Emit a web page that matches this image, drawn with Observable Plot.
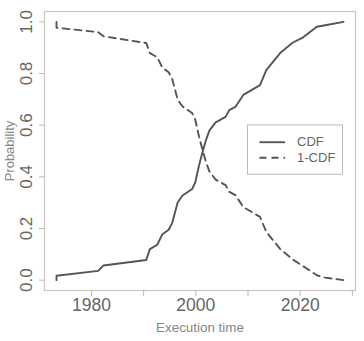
<!DOCTYPE html>
<html><head><meta charset="utf-8">
<script src="https://cdn.jsdelivr.net/npm/d3@7"></script>
<script src="https://cdn.jsdelivr.net/npm/@observablehq/plot@0.6"></script>
<style>body{margin:0;background:#fff}</style>
</head><body><div id="chart"></div>
<script>
const execTime = [1973.3, 1973.3, 1981.3, 1982.3, 1990.5, 1991.2, 1992.6, 1993.6, 1994.8, 1995.5, 1996.5, 1997.4, 1999.3, 1999.9, 2000.6, 2001.2, 2001.9, 2002.6, 2003.8, 2005.7, 2006.4, 2007.6, 2009.1, 2012.3, 2013.5, 2016.2, 2018.6, 2020.5, 2023.2, 2024.8, 2028.3];
const cdf = [0.0, 0.017, 0.036, 0.057, 0.078, 0.12, 0.137, 0.178, 0.195, 0.223, 0.30, 0.327, 0.353, 0.379, 0.443, 0.489, 0.540, 0.579, 0.611, 0.632, 0.658, 0.671, 0.717, 0.755, 0.813, 0.88, 0.92, 0.939, 0.981, 0.987, 1.0];
const survival = [1.0, 0.977, 0.960, 0.944, 0.918, 0.879, 0.863, 0.822, 0.805, 0.777, 0.70, 0.673, 0.647, 0.621, 0.557, 0.511, 0.460, 0.421, 0.389, 0.368, 0.342, 0.329, 0.283, 0.245, 0.187, 0.12, 0.08, 0.055, 0.019, 0.01, 0.0];
const seriesNames = ["CDF", "1-CDF"];
const xTicks = [1980, 1990, 2000, 2010, 2020, 2030];
const xTickLabels = [1980, 2000, 2020];
const yTicks = [0, 0.2, 0.4, 0.6, 0.8, 1.0];
const xTitle = "Execution time";
const yTitle = "Probability";

const cdfData = execTime.map((t, i) => ({t, p: cdf[i]}));
const survData = execTime.map((t, i) => ({t, p: survival[i]}));

// legend placed in data space (R legend "right")
const legendBox = {x1: 2010.0, x2: 2028.2, y1: 0.408, y2: 0.599};
const legendRows = [
  {name: seriesNames[0], y: 0.534},
  {name: seriesNames[1], y: 0.474}
];
const legendLine = {x1: 2012.2, x2: 2017.1, xText: 2019.4};

const lineColor = "#555";
const dash = "7,5";
const font = "Liberation Sans, Arial, Helvetica, sans-serif";

const chart = Plot.plot({
  width: 364,
  height: 341,
  marginLeft: 44,
  marginRight: 9,
  marginTop: 11,
  marginBottom: 51,
  style: {fontFamily: font, background: "#fff"},
  x: {domain: [1971.0, 2030.6]},
  y: {domain: [-0.04, 1.04]},
  marks: [
    Plot.frame({stroke: "#c8c8c8", strokeWidth: 1.2}),
    Plot.axisX({
      ticks: xTicks, tickSize: 6, tickPadding: 2, stroke: "#bbb",
      tickFormat: d => xTickLabels.includes(d) ? String(d) : "",
      fontSize: 17.5, color: "#666", label: null
    }),
    Plot.axisY({
      ticks: yTicks, tickSize: 5, tickPadding: 7.5, tickRotate: -90, stroke: "#bbb",
      tickFormat: d3.format(".1f"), fontSize: 17, color: "#666", label: null
    }),
    Plot.text([xTitle], {frameAnchor: "bottom", dy: 41, lineAnchor: "bottom", fontSize: 13.4, fill: "#888", text: d => d}),
    Plot.text([yTitle], {frameAnchor: "left", dx: -31, rotate: -90, lineAnchor: "bottom", textAnchor: "middle", fontSize: 13, fill: "#888", text: d => d}),
    Plot.line(cdfData, {x: "t", y: "p", stroke: lineColor, strokeWidth: 1.9}),
    Plot.line(survData, {x: "t", y: "p", stroke: lineColor, strokeWidth: 1.9, strokeDasharray: dash}),
    Plot.rect([legendBox], {x1: "x1", x2: "x2", y1: "y1", y2: "y2", fill: "white", stroke: "#bbb", strokeWidth: 1}),
    Plot.link([legendRows[0]], {x1: () => legendLine.x1, x2: () => legendLine.x2, y1: "y", y2: "y", stroke: lineColor, strokeWidth: 1.9}),
    Plot.link([legendRows[1]], {x1: () => legendLine.x1, x2: () => legendLine.x2, y1: "y", y2: "y", stroke: lineColor, strokeWidth: 1.9, strokeDasharray: dash}),
    Plot.text(legendRows, {x: () => legendLine.xText, y: "y", text: "name", textAnchor: "start", fontSize: 13, fill: "#666"})
  ]
});
document.getElementById("chart").appendChild(chart);
</script>
</body></html>
